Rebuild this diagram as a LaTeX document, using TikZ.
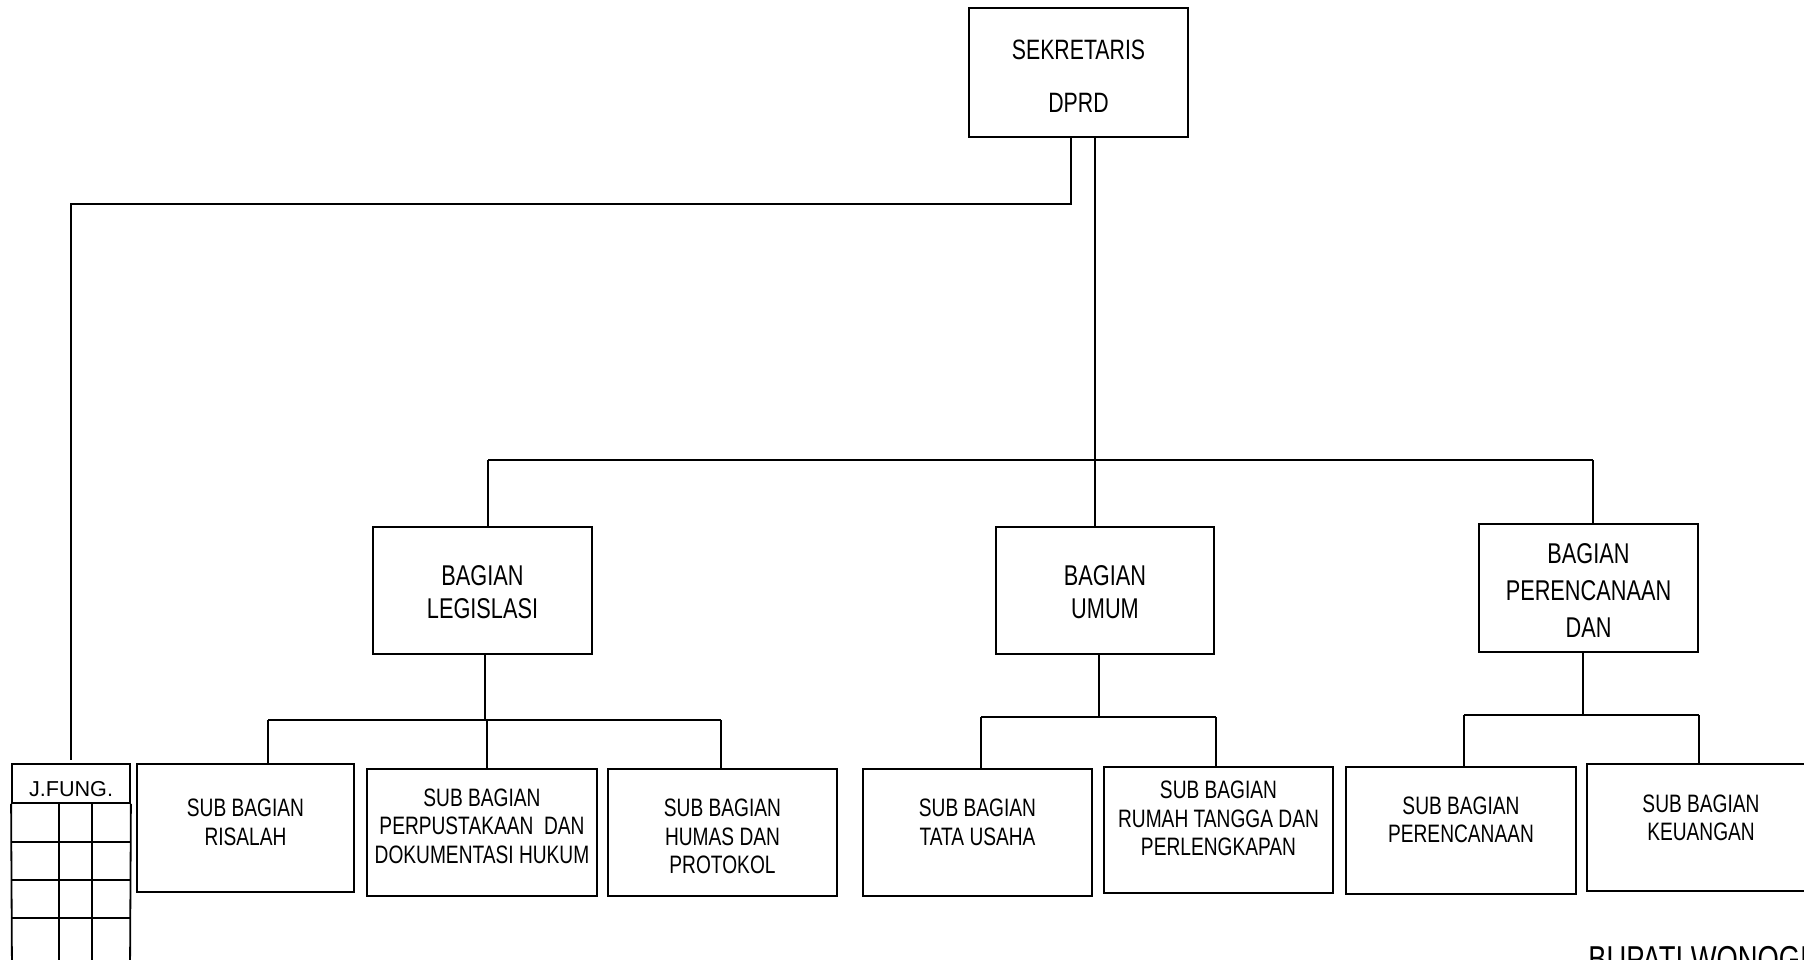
\documentclass[tikz,border=0pt]{standalone}
\usepackage{fontspec}
\setmainfont{Liberation Sans}[FakeStretch=0.76]
\newfontfamily\jfont{Liberation Sans}
\begin{document}
\begin{tikzpicture}[x=0.5pt,y=-0.5pt,
  box/.style={draw, line width=0.9pt, inner sep=0pt},
  conn/.style={line width=0.8pt},
  subtext/.style={align=center, inner sep=0pt, font=\fontsize{12.6}{14.3}\selectfont},
  bagtext/.style={align=center, inner sep=0pt, font=\fontsize{14.3}{16.5}\selectfont},
  sektext/.style={align=center, inner sep=0pt, font=\fontsize{14}{26.5}\selectfont}]
\useasboundingbox (0,0) rectangle (1804,959);
\clip (0,0) rectangle (1804,959);

% top
\node[box, minimum width=109.5pt, minimum height=64.5pt,
  label={[sektext, yshift=-2pt]center:SEKRETARIS\\DPRD}] (sek) at (1078.5,72.5) {};

% J.FUNG
\node[box, minimum width=59pt, minimum height=19.5pt,
  label={[inner sep=0pt, yshift=-3pt, font=\jfont\fontsize{10.8}{12}\selectfont]center:J.FUNG.}] (jfung) at (71,783.5) {};
\draw[box] (jfung.south west) -- (12,975);
\draw[box] (jfung.south east) -- (130,975);
\draw[box] (59,803) -- (59,975);
\draw[box] (92,803) -- (92,975);
\draw[box] (12,842) -- (130,842);
\draw[box] (12,880) -- (130,880);
\draw[box] (12,918) -- (130,918);

% bagian
\node[box, minimum width=109.5pt, minimum height=63.5pt,
  label={[bagtext, yshift=-0.75pt]center:BAGIAN\\LEGISLASI}] (leg) at (482.5,590.5) {};
\node[box, minimum width=109pt, minimum height=63.5pt,
  label={[bagtext, yshift=-0.75pt]center:BAGIAN\\UMUM}] (umum) at (1105,590.5) {};
\node[box, minimum width=109.5pt, minimum height=64pt,
  label={[bagtext, font=\fontsize{14.3}{18.3}\selectfont, yshift=-1.25pt]center:BAGIAN\\PERENCANAAN\\DAN}] (per) at (1588.5,588) {};

% sub bagian
\node[box, minimum width=108.5pt, minimum height=64pt,
  label={[subtext, yshift=2.75pt]center:SUB BAGIAN\\RISALAH}] (ris) at (245.5,828) {};
\node[box, minimum width=115pt, minimum height=63.5pt,
  label={[subtext, yshift=3.25pt]center:SUB BAGIAN\\PERPUSTAKAAN\ \ DAN\\DOKUMENTASI HUKUM}] (pus) at (482,832.5) {};
\node[box, minimum width=114.5pt, minimum height=63.5pt,
  label={[subtext, yshift=-2pt]center:SUB BAGIAN\\HUMAS DAN\\PROTOKOL}] (hum) at (722.5,832.5) {};
\node[box, minimum width=114.5pt, minimum height=63.5pt,
  label={[subtext, yshift=5pt]center:SUB BAGIAN\\TATA USAHA}] (tata) at (977.5,832.5) {};
\node[box, minimum width=114.5pt, minimum height=63pt,
  label={[subtext, yshift=5.75pt]center:SUB BAGIAN\\RUMAH TANGGA DAN\\PERLENGKAPAN}] (rt) at (1218.5,830) {};
\node[box, minimum width=115pt, minimum height=63.5pt,
  label={[subtext, yshift=5.25pt]center:SUB BAGIAN\\PERENCANAAN}] (sper) at (1461,830.5) {};
\node[box, minimum width=114pt, minimum height=63.5pt,
  label={[subtext, yshift=4.75pt]center:SUB BAGIAN\\KEUANGAN}] (keu) at (1701,827.5) {};

% footer text
\node[anchor=north west, inner sep=0pt, font=\fontsize{18}{21}\selectfont] (bup) at (1588,946) {BUPATI WONOGIRI};

% connectors
\draw[conn] (sek.south -| 1071,0) |- (71,204) -- (71,760);
\draw[conn] (sek.south -| 1095,0) -- (1095,460);
\draw[conn] (488,460) -- (1593,460);
\draw[conn] (488,460) -- (leg.north -| 488,0);
\draw[conn] (1095,460) -- (umum.north -| 1095,0);
\draw[conn] (1593,460) -- (per.north -| 1593,0);

\draw[conn] (leg.south -| 485,0) -- (485,720);
\draw[conn] (268,720) -- (721,720);
\draw[conn] (268,720) -- (ris.north -| 268,0);
\draw[conn] (487,720) -- (pus.north -| 487,0);
\draw[conn] (721,720) -- (hum.north -| 721,0);

\draw[conn] (umum.south -| 1099,0) -- (1099,717);
\draw[conn] (981,717) -- (1216,717);
\draw[conn] (981,717) -- (tata.north -| 981,0);
\draw[conn] (1216,717) -- (rt.north -| 1216,0);

\draw[conn] (per.south -| 1583,0) -- (1583,715);
\draw[conn] (1464,715) -- (1699,715);
\draw[conn] (1464,715) -- (sper.north -| 1464,0);
\draw[conn] (1699,715) -- (keu.north -| 1699,0);
\end{tikzpicture}
\end{document}
